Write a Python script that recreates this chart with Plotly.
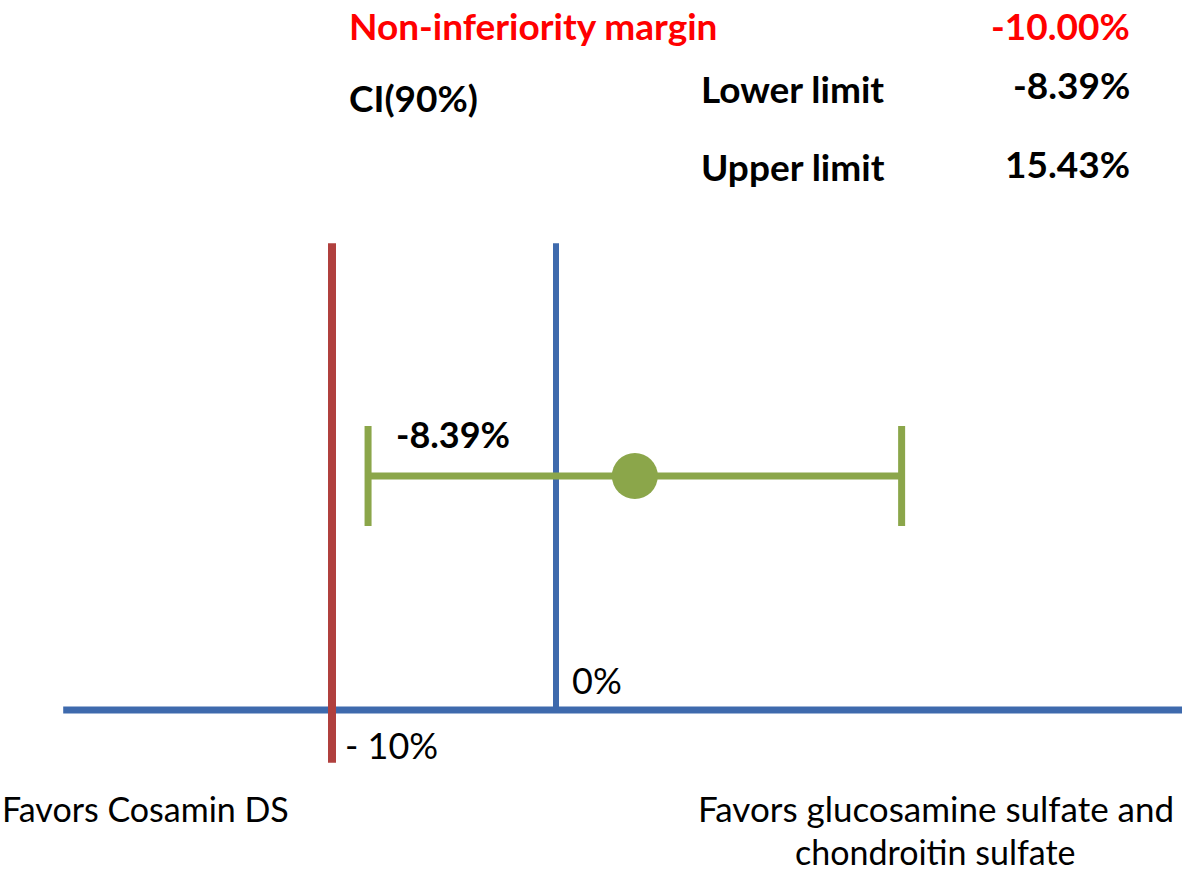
import plotly.graph_objects as go

# values shown on the chart (percent)
margin_pct = -10.00
ci_lower = -8.39
ci_upper = 15.43
point_est = (ci_lower + ci_upper) / 2

header_labels = ["Non-inferiority margin", "Lower limit", "Upper limit"]
header_values = ["-10.00%", "-8.39%", "15.43%"]
side_labels = ["Favors Cosamin DS", "Favors glucosamine sulfate and", "chondroitin sulfate"]

RED = "#b0403e"
BLUE = "#3e6aad"
GREEN = "#8ba64a"
FONT = "Lato"

W, H = 1182, 876


def py(pixel_y):
    # paper y from a pixel row (figure has no margins)
    return 1 - pixel_y / H


fig = go.Figure()

# baseline
fig.add_trace(go.Scatter(x=[-22.0, 28.5], y=[0, 0], mode="lines",
                         line=dict(color=BLUE, width=7), hoverinfo="skip"))
# non-inferiority margin line
fig.add_trace(go.Scatter(x=[margin_pct, margin_pct], y=[-0.225, 1.995], mode="lines",
                         line=dict(color=RED, width=8), hoverinfo="skip"))
# zero line
fig.add_trace(go.Scatter(x=[0, 0], y=[0, 1.995], mode="lines",
                         line=dict(color=BLUE, width=6), hoverinfo="skip"))
# confidence interval with point estimate
fig.add_trace(go.Scatter(
    x=[point_est], y=[1], mode="markers",
    marker=dict(color=GREEN, size=46),
    error_x=dict(type="data", symmetric=False,
                 array=[ci_upper - point_est], arrayminus=[point_est - ci_lower],
                 color=GREEN, thickness=7, width=50),
    hoverinfo="skip",
))

annotations = []
HDR = 37
# header block
annotations.append(dict(x=347 / W, y=py(26), text=f"<b>{header_labels[0]}</b>",
                        xanchor="left", font=dict(color="#ff0000", size=HDR)))
annotations.append(dict(x=1132 / W, y=py(26), text=f"<b>{header_values[0]}</b>",
                        xanchor="right", font=dict(color="#ff0000", size=HDR)))
annotations.append(dict(x=347 / W, y=py(98), text="<b>CI(90%)</b>",
                        xanchor="left", font=dict(color="black", size=HDR)))
for lab, val, yp in zip(header_labels[1:], header_values[1:], [88, 166]):
    annotations.append(dict(x=699 / W, y=py(yp), text=f"<b>{lab}</b>",
                            xanchor="left", font=dict(color="black", size=HDR)))
    annotations.append(dict(x=1132 / W, y=py(yp - 3), text=f"<b>{val}</b>",
                            xanchor="right", font=dict(color="black", size=HDR)))

# side labels
annotations.append(dict(x=0, y=py(808), text=side_labels[0],
                        xanchor="left", font=dict(color="black", size=34)))
annotations.append(dict(x=1176 / W, y=py(808), text=side_labels[1],
                        xanchor="right", font=dict(color="black", size=35)))
annotations.append(dict(x=935 / W, y=py(851), text=side_labels[2],
                        xanchor="center", font=dict(color="black", size=34)))

for a in annotations:
    a.update(xref="paper", yref="paper", yanchor="middle", showarrow=False)

# in-plot labels
fig.add_annotation(x=ci_lower, y=1.18, xref="x", yref="y", text=f"<b>{ci_lower:.2f}%</b>",
                   xanchor="left", yanchor="middle", xshift=26, showarrow=False,
                   font=dict(color="black", size=36))
fig.add_annotation(x=0, y=0.13, xref="x", yref="y", text="0%",
                   xanchor="left", yanchor="middle", xshift=14, showarrow=False,
                   font=dict(color="black", size=36))
fig.add_annotation(x=margin_pct, y=-0.15, xref="x", yref="y", text=f"- {abs(margin_pct):.0f}%",
                   xanchor="left", yanchor="middle", xshift=11, showarrow=False,
                   font=dict(color="black", size=36))

fig.update_layout(
    width=W, height=H,
    margin=dict(l=0, r=0, t=0, b=0),
    paper_bgcolor="white", plot_bgcolor="white",
    showlegend=False,
    font=dict(family=FONT),
    annotations=list(fig.layout.annotations) + annotations,
    xaxis=dict(range=[-556 / 22.4, (W - 556) / 22.4], visible=False, fixedrange=True),
    yaxis=dict(range=[-166 / 234, 710 / 234], visible=False, fixedrange=True),
)

# the page body has a default margin; drop it so the figure fills the window
fig.write_html("out.html", config={"displayModeBar": False},
               post_script="document.body.style.margin='0';")
